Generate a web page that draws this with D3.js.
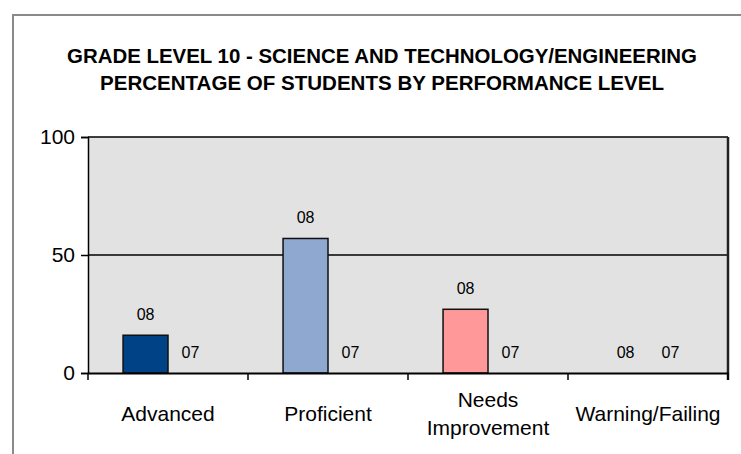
<!DOCTYPE html>
<html><head><meta charset="utf-8">
<script src="https://cdn.jsdelivr.net/npm/d3@7"></script>
<style>
html,body{margin:0;padding:0;background:#fff;}
svg{display:block;}
</style>
</head><body>
<svg id="chart" width="741" height="454"></svg>
<script>
const categories = ["Advanced", "Proficient", "Needs Improvement", "Warning/Failing"];
const series = ["08", "07"];
const values08 = [16, 57, 27, 0];
const values07 = [0, 0, 0, 0];
const barColors = ["#004286", "#8fa8cf", "#ff9999", "#e05050"];
const yTicks = [0, 50, 100];
const titleLines = ["GRADE LEVEL 10 - SCIENCE AND TECHNOLOGY/ENGINEERING", "PERCENTAGE OF STUDENTS BY PERFORMANCE LEVEL"];

const svg = d3.select("#chart");
const plot = {left: 88, right: 728, top: 137, bottom: 373};

// outer chart border
svg.append("rect").attr("x", 13).attr("y", 15).attr("width", 760).attr("height", 480)
  .attr("fill", "#fff").attr("stroke", "#8a8a8a").attr("stroke-width", 2);

// title
svg.selectAll("text.title").data(titleLines).join("text")
  .attr("class", "title")
  .attr("x", 382).attr("y", (d, i) => 63 + i * 27)
  .attr("text-anchor", "middle")
  .attr("font-family", "'Liberation Sans Narrow','Arial Narrow','Liberation Sans',Arial,sans-serif")
  .attr("font-weight", "bold").attr("font-size", 21).attr("fill", "#000")
  .attr("textLength", (d, i) => i === 0 ? 630 : 564)
  .attr("lengthAdjust", "spacingAndGlyphs")
  .text(d => d);

const x0 = d3.scaleBand().domain(categories).range([plot.left, plot.right]).padding(0);
const x1 = d3.scaleBand().domain(series).range([0, x0.bandwidth()]).paddingInner(0).paddingOuter(0.78).align(0.5);
const y = d3.scaleLinear().domain([0, 100]).range([plot.bottom, plot.top]);

// plot area
svg.append("rect").attr("x", plot.left).attr("y", plot.top)
  .attr("width", plot.right - plot.left).attr("height", plot.bottom - plot.top)
  .attr("fill", "#e2e2e2");

// gridlines
svg.append("g").selectAll("line").data(yTicks.filter(t => t > 0)).join("line")
  .attr("x1", plot.left).attr("x2", plot.right)
  .attr("y1", d => y(d)).attr("y2", d => y(d))
  .attr("stroke", "#000").attr("stroke-width", 1.5);

// right border
svg.append("line").attr("x1", plot.right).attr("x2", plot.right)
  .attr("y1", plot.top).attr("y2", plot.bottom + 7)
  .attr("stroke", "#222").attr("stroke-width", 2.5);

// bars
const data = [];
categories.forEach((c, i) => {
  data.push({cat: c, s: "08", v: values08[i], color: barColors[i]});
  data.push({cat: c, s: "07", v: values07[i], color: barColors[i]});
});
svg.append("g").selectAll("rect").data(data.filter(d => d.v > 0)).join("rect")
  .attr("x", d => x0(d.cat) + x1(d.s))
  .attr("y", d => y(d.v))
  .attr("width", x1.bandwidth())
  .attr("height", d => y(0) - y(d.v))
  .attr("fill", d => d.color)
  .attr("stroke", "#111").attr("stroke-width", 1.5);

// data labels
svg.append("g").selectAll("text").data(data).join("text")
  .attr("x", d => x0(d.cat) + x1(d.s) + x1.bandwidth() / 2)
  .attr("y", d => y(d.v) - 15)
  .attr("text-anchor", "middle")
  .attr("font-family", "'Liberation Sans',Arial,sans-serif")
  .attr("font-size", 16).attr("fill", "#000")
  .text(d => d.s);

// y axis
const yAxis = d3.axisLeft(y).tickValues(yTicks).tickSize(7).tickPadding(6);
const gy = svg.append("g").attr("transform", `translate(${plot.left},0)`).call(yAxis);
gy.select(".domain").attr("stroke", "#000").attr("stroke-width", 1.5);
gy.selectAll(".tick line").attr("stroke", "#000").attr("stroke-width", 1.5);
gy.selectAll(".tick text").attr("font-family", "'Liberation Sans',Arial,sans-serif")
  .attr("font-size", 21).attr("fill", "#000");

// x axis
const xAxis = d3.axisBottom(x0).tickSize(0).tickFormat("");
const gx = svg.append("g").attr("transform", `translate(0,${plot.bottom})`).call(xAxis);
gx.select(".domain").attr("stroke", "#000").attr("stroke-width", 2);
const xTickPos = categories.map(c => x0(c)).concat([plot.right]);
svg.append("g").selectAll("line").data(xTickPos).join("line")
  .attr("x1", d => d).attr("x2", d => d)
  .attr("y1", plot.bottom).attr("y2", plot.bottom + 7)
  .attr("stroke", "#000").attr("stroke-width", 1.5);

// category labels
const labelLines = {"Needs Improvement": ["Needs", "Improvement"]};
categories.forEach(c => {
  const lines = labelLines[c] || [c];
  const t = svg.append("text")
    .attr("x", x0(c) + x0.bandwidth() / 2)
    .attr("text-anchor", "middle")
    .attr("font-family", "'Liberation Sans',Arial,sans-serif")
    .attr("font-size", 21).attr("fill", "#000");
  lines.forEach((l, i) => {
    t.append("tspan").attr("x", x0(c) + x0.bandwidth() / 2)
      .attr("y", lines.length === 1 ? 421 : 407 + i * 28).text(l);
  });
});
</script>
</body></html>
